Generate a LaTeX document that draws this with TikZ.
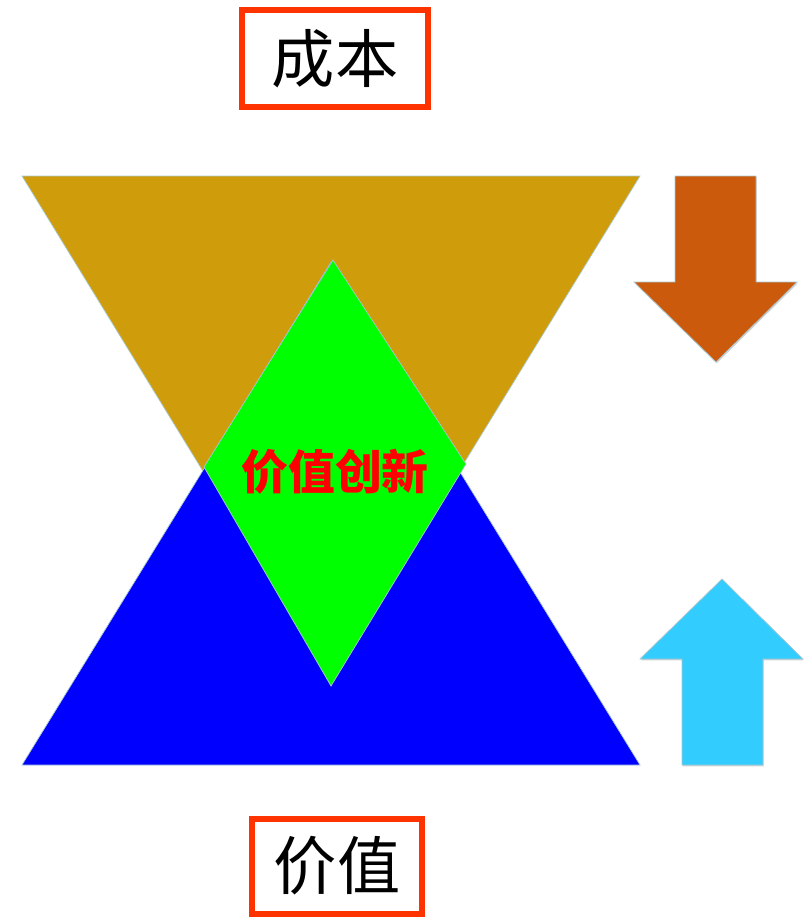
\documentclass[tikz,border=0pt]{standalone}
\usepackage{fontspec}
\newfontfamily\cjk{Noto Sans CJK SC}
\usetikzlibrary{shadows}

\definecolor{costgold}{HTML}{CF9C0C}
\definecolor{valblue}{HTML}{0000FF}
\definecolor{innogreen}{HTML}{00FF00}
\definecolor{downorange}{HTML}{CC5A0C}
\definecolor{upcyan}{HTML}{33CCFF}
\definecolor{boxred}{HTML}{FF3300}
\definecolor{edgegrey}{HTML}{A8C8D0}

\begin{document}
\begin{tikzpicture}[
  x=0.03cm, y=-0.03cm,
  titlebox/.style={rectangle, draw=boxred, line width=0.18cm, fill=white,
                   minimum width=5.6cm, minimum height=2.9cm, align=center,
                   font=\cjk\fontsize{54}{54}\selectfont},
  plate/.style={draw=edgegrey, line width=0.6pt},
  arrowplate/.style={draw=edgegrey, line width=0.6pt,
                     drop shadow={shadow xshift=0.6pt, shadow yshift=-1.2pt, opacity=0.35}},
  midlbl/.style={text=red, font=\cjk\bfseries\fontsize{40}{40}\selectfont, inner sep=0pt}
]
\useasboundingbox (0,0) rectangle (805,917);

% Titles
\node[titlebox] (cost)  at (335, 58.5) {成本};
\node[titlebox, minimum width=5.1cm, minimum height=2.85cm] (value) at (337, 866) {价值};

% Cost triangle (pointing down)
\filldraw[fill=costgold, plate] (22,176) -- (640,176) -- (331,680) -- cycle;

% Value triangle (pointing up)
\filldraw[fill=valblue, plate] (22,765) -- (640,765) -- (331,262) -- cycle;

% Innovation diamond
\filldraw[fill=innogreen, plate] (333,260) -- (466,464) -- (331,686) -- (204,467) -- cycle;
\node[midlbl] (innov) at (335, 472) {价值创新};

% Cost goes down
\filldraw[fill=downorange, arrowplate] (675,176) -- (756,176) -- (756,282) -- (797,282)
  -- (716,362) -- (634,282) -- (675,282) -- cycle;

% Value goes up
\filldraw[fill=upcyan, arrowplate] (722,579) -- (803,659) -- (763,659) -- (763,765)
  -- (682,765) -- (682,659) -- (640,659) -- cycle;

\end{tikzpicture}
\end{document}
